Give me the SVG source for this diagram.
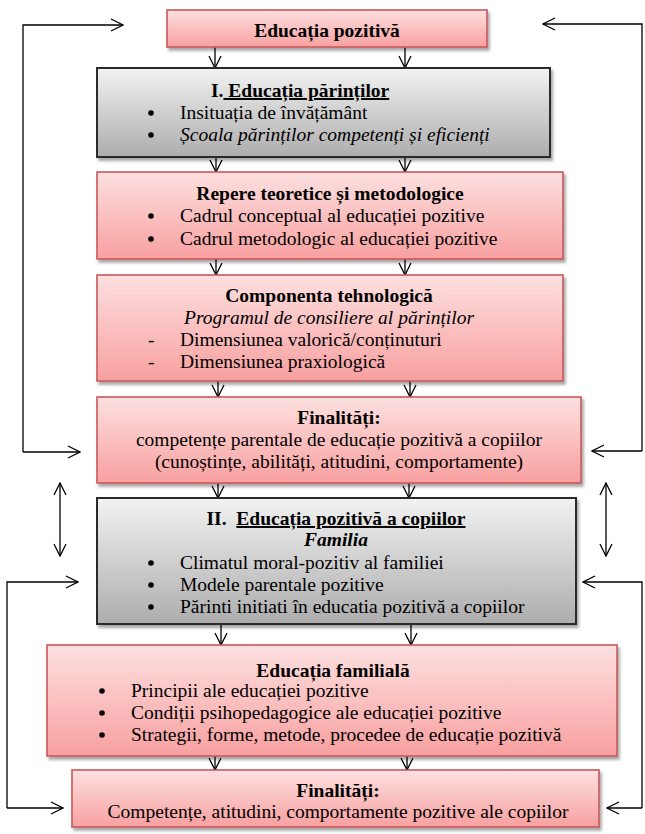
<svg xmlns="http://www.w3.org/2000/svg" width="645" height="834" viewBox="0 0 645 834">
<defs>
<linearGradient id="pink" x1="0" y1="0" x2="0" y2="1">
<stop offset="0" stop-color="#fde0e0"/>
<stop offset="1" stop-color="#f8a0a0"/>
</linearGradient>
<linearGradient id="gray" x1="0" y1="0" x2="0" y2="1">
<stop offset="0" stop-color="#f2f2f2"/>
<stop offset="1" stop-color="#adadad"/>
</linearGradient>
<filter id="sh" x="-5%" y="-10%" width="115%" height="130%">
<feDropShadow dx="2" dy="3" stdDeviation="1.8" flood-color="#000" flood-opacity="0.35"/>
</filter>
<marker id="ah" viewBox="0 0 14 14" refX="13" refY="7" markerWidth="14" markerHeight="14" markerUnits="userSpaceOnUse" orient="auto-start-reverse">
<path d="M1,1 L13,7 L1,13" fill="none" stroke="#000" stroke-width="1.3"/>
</marker>
</defs>
<style>
.p{fill:url(#pink);stroke:#c9585a;stroke-width:1.6;filter:url(#sh)}
.g{fill:url(#gray);stroke:#2b2b2b;stroke-width:2;filter:url(#sh)}
text{font-family:"Liberation Serif","Times New Roman",serif;font-size:19.5px;fill:#000}
.b{font-weight:bold}
.i{font-style:italic}
.c{text-anchor:middle}
.u{text-decoration:underline}
.dot{fill:#000}
.ar{fill:none;stroke:#000;stroke-width:1.3;marker-end:url(#ah)}
.da{fill:none;stroke:#000;stroke-width:1.3;marker-end:url(#ah);marker-start:url(#ah)}
</style>

<g id="connectors">
<polyline class="ar" points="23,452 23,25 123,25"/>
<polyline class="ar" points="23,452 80,452"/>
<polyline class="ar" points="642,451 642,24 543,24"/>
<polyline class="ar" points="642,451 592,451"/>
<line class="da" x1="60" y1="483" x2="60" y2="556"/>
<line class="da" x1="606" y1="483" x2="606" y2="556"/>
<polyline class="ar" points="7,808 7,582 78,582"/>
<polyline class="ar" points="7,808 63,808"/>
<polyline class="ar" points="642,808 642,582 583,582"/>
<polyline class="ar" points="642,808 607,808"/>
<line class="ar" x1="215" y1="47" x2="215" y2="68"/>
<line class="ar" x1="405" y1="47" x2="405" y2="68"/>
<line class="ar" x1="216" y1="157" x2="216" y2="172"/>
<line class="ar" x1="405" y1="157" x2="405" y2="172"/>
<line class="ar" x1="216" y1="259" x2="216" y2="275"/>
<line class="ar" x1="405" y1="259" x2="405" y2="275"/>
<line class="ar" x1="218" y1="381" x2="218" y2="397"/>
<line class="ar" x1="410" y1="381" x2="410" y2="397"/>
<line class="ar" x1="218" y1="483" x2="218" y2="498"/>
<line class="ar" x1="409" y1="483" x2="409" y2="498"/>
<line class="ar" x1="221" y1="624" x2="221" y2="645"/>
<line class="ar" x1="411" y1="624" x2="411" y2="645"/>
<line class="ar" x1="215" y1="756" x2="215" y2="770"/>
<line class="ar" x1="407" y1="756" x2="407" y2="770"/>
</g>

<g id="n1">
<rect class="p" x="167" y="10" width="320" height="37"/>
<text class="b c" x="327" y="37">Educația pozitivă</text>
</g>

<g id="n2">
<rect class="g" x="97" y="68" width="453" height="89"/>
<text class="b" x="211" y="97">I.<tspan class="u"> Educația părinților</tspan></text>
<circle class="dot" cx="151" cy="113" r="2.8"/>
<text x="180" y="119">Insituația de învățământ</text>
<circle class="dot" cx="151" cy="135" r="2.8"/>
<text class="i" x="180" y="141">Școala părinților competenți și eficienți</text>
</g>

<g id="n3">
<rect class="p" x="97" y="172" width="466" height="87"/>
<text class="b c" x="330" y="200">Repere teoretice și metodologice</text>
<circle class="dot" cx="151" cy="216" r="2.8"/>
<text x="180" y="222">Cadrul conceptual al educației pozitive</text>
<circle class="dot" cx="151" cy="239" r="2.8"/>
<text x="180" y="245">Cadrul metodologic al educației pozitive</text>
</g>

<g id="n4">
<rect class="p" x="97" y="275" width="466" height="106"/>
<text class="b c" x="329" y="302">Componenta tehnologică</text>
<text class="i c" x="329" y="324">Programul de consiliere al părinților</text>
<text x="148" y="346">-</text>
<text x="180" y="346">Dimensiunea valorică/conținuturi</text>
<text x="148" y="368">-</text>
<text x="180" y="368">Dimensiunea praxiologică</text>
</g>

<g id="n5">
<rect class="p" x="97" y="397" width="484" height="86"/>
<text class="b c" x="339" y="424">Finalități:</text>
<text class="c" x="339" y="446">competențe parentale de educație pozitivă a copiilor</text>
<text class="c" x="339" y="468">(cunoștințe, abilități, atitudini, comportamente)</text>
</g>

<g id="n6">
<rect class="g" x="97" y="498" width="479" height="126"/>
<text class="b c" x="336" y="525">II.&#160; <tspan class="u">Educația pozitivă a copiilor</tspan></text>
<text class="b i c" x="336" y="546">Familia</text>
<circle class="dot" cx="151" cy="563" r="2.8"/>
<text x="180" y="569">Climatul moral-pozitiv al familiei</text>
<circle class="dot" cx="151" cy="585" r="2.8"/>
<text x="180" y="591">Modele parentale pozitive</text>
<circle class="dot" cx="151" cy="607" r="2.8"/>
<text x="180" y="613">Părinti initiati în educatia pozitivă a copiilor</text>
</g>

<g id="n7">
<rect class="p" x="47" y="645" width="570" height="111"/>
<text class="b c" x="333" y="677">Educația familială</text>
<circle class="dot" cx="102" cy="691" r="2.8"/>
<text x="131" y="697">Principii ale educației pozitive</text>
<circle class="dot" cx="102" cy="713" r="2.8"/>
<text x="131" y="719">Condiții psihopedagogice ale educației pozitive</text>
<circle class="dot" cx="102" cy="735" r="2.8"/>
<text x="131" y="741">Strategii, forme, metode, procedee de educație pozitivă</text>
</g>

<g id="n8">
<rect class="p" x="72" y="770" width="527" height="57"/>
<text class="b c" x="338" y="797">Finalități:</text>
<text class="c" x="338" y="818">Competențe, atitudini, comportamente pozitive ale copiilor</text>
</g>
</svg>
